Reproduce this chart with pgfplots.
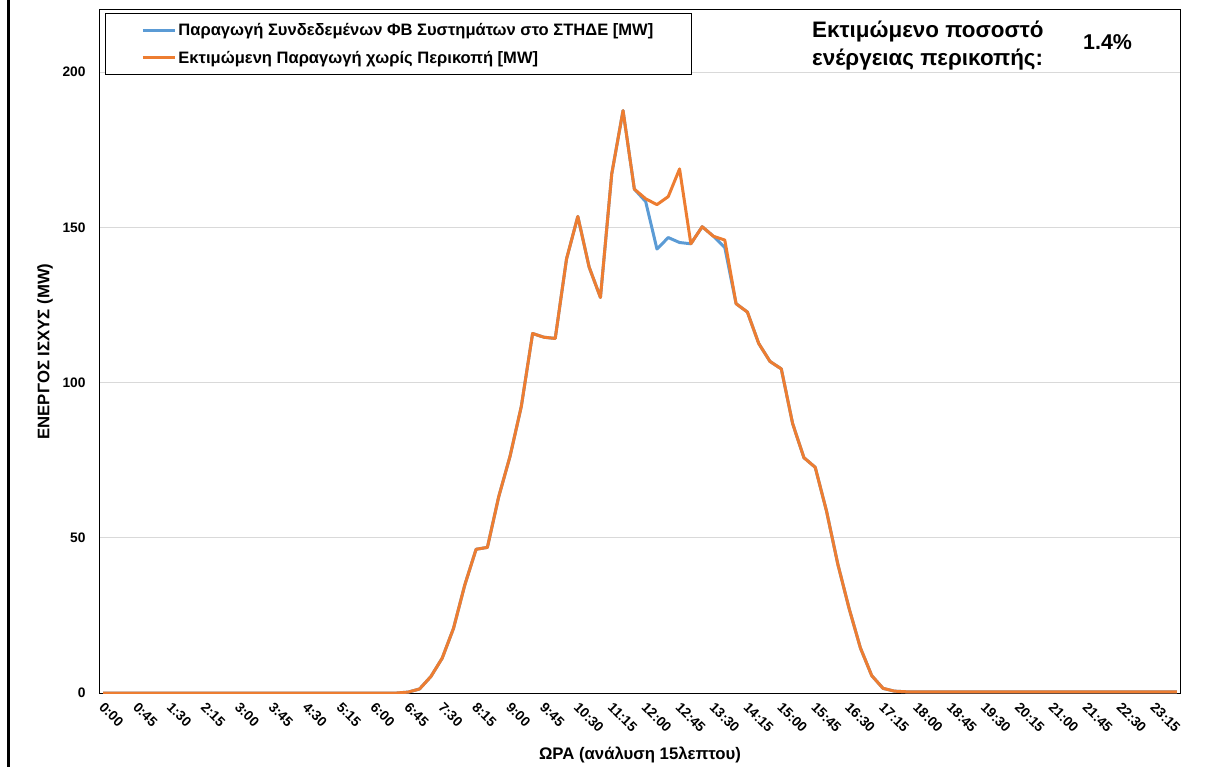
\documentclass[border=0pt]{standalone}
\usepackage{fontspec}
\setmainfont{Liberation Sans}
\usepackage{pgfplots}
\pgfplotsset{compat=1.18}
\definecolor{cblue}{HTML}{5B9BD5}
\definecolor{corange}{HTML}{ED7D31}
\definecolor{gridgray}{HTML}{D9D9D9}

\pgfplotstableread{
x y
0 0
1 0
2 0
3 0
4 0
5 0
6 0
7 0
8 0
9 0
10 0
11 0
12 0
13 0
14 0
15 0
16 0
17 0
18 0
19 0
20 0
21 0
22 0
23 0
24 0
25 0
26 0
27 0.3
28 1.3
29 5.3
30 11.2
31 20.8
32 34.8
33 46.3
34 46.9
35 63.2
36 76.2
37 92.3
38 115.8
39 114.6
40 114.2
41 139.8
42 153.5
43 137.2
44 127.4
45 167.2
46 187.6
47 162.3
48 158.3
49 143.0
50 146.7
51 145.1
52 144.7
53 150.2
54 147.1
55 143.5
56 125.4
57 122.7
58 112.6
59 106.8
60 104.4
61 86.8
62 75.8
63 72.7
64 58.6
65 41.5
66 27.2
67 14.5
68 5.6
69 1.5
70 0.6
71 0.4
72 0.4
73 0.4
74 0.4
75 0.4
76 0.4
77 0.4
78 0.4
79 0.4
80 0.4
81 0.4
82 0.4
83 0.4
84 0.4
85 0.4
86 0.4
87 0.4
88 0.4
89 0.4
90 0.4
91 0.4
92 0.4
93 0.4
94 0.4
95 0.4
}\actual

\pgfplotstableread{
x y
0 0
1 0
2 0
3 0
4 0
5 0
6 0
7 0
8 0
9 0
10 0
11 0
12 0
13 0
14 0
15 0
16 0
17 0
18 0
19 0
20 0
21 0
22 0
23 0
24 0
25 0
26 0
27 0.3
28 1.3
29 5.3
30 11.2
31 20.8
32 34.8
33 46.3
34 46.9
35 63.2
36 76.2
37 92.3
38 115.8
39 114.6
40 114.2
41 139.8
42 153.5
43 137.2
44 127.4
45 167.2
46 187.6
47 162.3
48 159.2
49 157.3
50 159.9
51 168.8
52 144.7
53 150.2
54 147.1
55 145.9
56 125.4
57 122.7
58 112.6
59 106.8
60 104.4
61 86.8
62 75.8
63 72.7
64 58.6
65 41.5
66 27.2
67 14.5
68 5.6
69 1.5
70 0.6
71 0.4
72 0.4
73 0.4
74 0.4
75 0.4
76 0.4
77 0.4
78 0.4
79 0.4
80 0.4
81 0.4
82 0.4
83 0.4
84 0.4
85 0.4
86 0.4
87 0.4
88 0.4
89 0.4
90 0.4
91 0.4
92 0.4
93 0.4
94 0.4
95 0.4
}\estimated

\begin{document}
\begin{tikzpicture}
\useasboundingbox (-100bp,-74bp) rectangle (1107bp,693bp);
\begin{axis}[
  at={(0,0)}, anchor=south west,
  width=1080bp, height=683bp, scale only axis,
  xmin=-0.27, xmax=95.27, ymin=0, ymax=220,
  axis line style={black, line width=1bp},
  major tick length=0pt,
  ytick={0,50,100,150,200},
  ymajorgrids, grid style={gridgray, line width=1bp},
  xtick={0,3,...,93},
  xticklabels={0:00,0:45,1:30,2:15,3:00,3:45,4:30,5:15,6:00,6:45,7:30,8:15,9:00,9:45,10:30,11:15,12:00,12:45,13:30,14:15,15:00,15:45,16:30,17:15,18:00,18:45,19:30,20:15,21:00,21:45,22:30,23:15},
  /pgf/number format/assume math mode=true,
  tick label style={font=\bfseries\fontsize{13.8}{15}\selectfont},
  yticklabel style={xshift=-11bp},
  xticklabel style={rotate=-45, anchor=north west, xshift=4bp, yshift=-1bp},
  xlabel={ΩΡΑ (ανάλυση 15λεπτου)},
  ylabel={ΕΝΕΡΓΟΣ ΙΣΧΥΣ (MW)},
  label style={font=\bfseries\fontsize{16.8}{18}\selectfont},
  xlabel style={at={(axis description cs:0.5,-0.0908)}, anchor=center},
  ylabel style={at={(axis description cs:-0.0509,0.5)}, anchor=center},
  legend style={at={(axis description cs:0.0046,0.996)}, anchor=north west,
    draw=black, line width=1bp, fill=white,
    font=\bfseries\fontsize{16.6}{18}\selectfont,
    inner xsep=36bp, inner ysep=8bp, row sep=10bp,
    cells={anchor=west}},
  legend image code/.code={\draw[#1, line width=3bp] (0bp,0bp) -- (32bp,0bp);},
]
\addplot[cblue, line width=3bp, line join=round] table[x=x,y=y] {\actual};
\addlegendentry{Παραγωγή Συνδεδεμένων ΦΒ Συστημάτων στο ΣΤΗΔΕ [MW]}
\addplot[corange, line width=3bp, line join=round] table[x=x,y=y] {\estimated};
\addlegendentry{Εκτιμώμενη Παραγωγή χωρίς Περικοπή [MW]}
\end{axis}
\draw[line width=3bp, black] (-91bp,-74bp) -- (-91bp,693bp);
\node[anchor=base west, inner sep=0pt, font=\bfseries\fontsize{22.5}{24}\selectfont] at (712bp,655bp) {Εκτιμώμενο ποσοστό};
\node[anchor=base west, inner sep=0pt, font=\bfseries\fontsize{22.5}{24}\selectfont] at (712bp,627bp) {ενέργειας περικοπής:};
\node[anchor=base west, inner sep=0pt, font=\bfseries\fontsize{21.5}{24}\selectfont] at (983bp,643bp) {1.4\%};
\end{tikzpicture}
\end{document}
